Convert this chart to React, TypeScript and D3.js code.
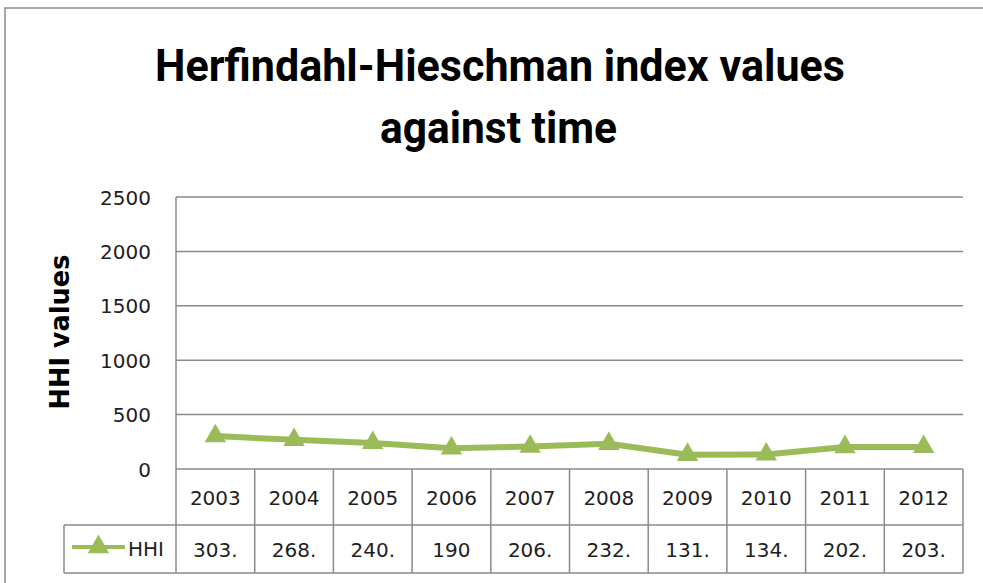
import React from "react";
import * as d3 from "d3";

const years = ["2003", "2004", "2005", "2006", "2007", "2008", "2009", "2010", "2011", "2012"];
const hhiValues = [303, 268, 240, 190, 206, 232, 131, 134, 202, 203];
const hhiLabels = ["303.", "268.", "240.", "190", "206.", "232.", "131.", "134.", "202.", "203."];
const yTicks = [0, 500, 1000, 1500, 2000, 2500];
const seriesName = "HHI";
const titleLines = ["Herfindahl-Hieschman index values", "against time"];
const yAxisTitle = "HHI values";

const W = 983;
const H = 583;
const plotLeft = 176;
const plotRight = 963;
const plotTop = 197;
const plotBottom = 469;
const row1Bottom = 525;
const row2Bottom = 573;
const legendLeft = 64;

const GREEN = "#9bbb59";
const GRID = "#8a8a8a";
const TEXT = "#1e1e1e";

export default function App() {
  const x = d3.scaleBand<string>().domain(years).range([plotLeft, plotRight]).padding(0);
  const y = d3.scaleLinear().domain([0, 2500]).range([plotBottom, plotTop]);
  const cx = (yr: string) => (x(yr) as number) + x.bandwidth() / 2;

  const line = d3
    .line<number>()
    .x((_, i) => cx(years[i]))
    .y((v) => y(v));

  const tri = d3.symbol().type(d3.symbolTriangle).size(200)();

  const tickFont = "'DejaVu Sans', Verdana, sans-serif";
  const titleFont = "Roboto, 'Liberation Sans', sans-serif";

  return (
    <svg
      width={W}
      height={H}
      viewBox={`0 0 ${W} ${H}`}
      style={{ position: "absolute", left: 0, top: 0, background: "#fff" }}
    >
      <rect x={0} y={0} width={W} height={H} fill="#fff" />
      {/* outer chart border */}
      <rect x={5} y={8} width={W + 20} height={H + 20} fill="none" stroke="#8c8c8c" strokeWidth={1.5} />

      {/* title */}
      <text
        x={155}
        y={81}
        textLength={690}
        lengthAdjust="spacingAndGlyphs"
        fontFamily={titleFont}
        fontWeight={700}
        fontSize={45}
        fill="#000"
      >
        {titleLines[0]}
      </text>
      <text
        x={380}
        y={143}
        textLength={237}
        lengthAdjust="spacingAndGlyphs"
        fontFamily={titleFont}
        fontWeight={700}
        fontSize={45}
        fill="#000"
      >
        {titleLines[1]}
      </text>

      {/* y axis title */}
      <text
        transform={`translate(69, 332) rotate(-90)`}
        textAnchor="middle"
        textLength={155}
        lengthAdjust="spacingAndGlyphs"
        fontFamily="'DejaVu Sans', sans-serif"
        fontWeight="bold"
        fontSize={26}
        fill="#000"
      >
        {yAxisTitle}
      </text>

      {/* gridlines */}
      {yTicks.map((t) => (
        <line
          key={"g" + t}
          x1={plotLeft}
          x2={plotRight}
          y1={y(t)}
          y2={y(t)}
          stroke={GRID}
          strokeWidth={1.5}
        />
      ))}
      {/* y tick labels */}
      {yTicks.map((t) => (
        <text
          key={"t" + t}
          x={151}
          y={y(t) + 7.5}
          textAnchor="end"
          fontFamily={tickFont}
          fontSize={20}
          fill={TEXT}
        >
          {t}
        </text>
      ))}

      {/* left axis line */}
      <line x1={plotLeft} x2={plotLeft} y1={plotTop} y2={row2Bottom} stroke={GRID} strokeWidth={1.5} />

      {/* data table grid */}
      <line x1={legendLeft} x2={plotRight} y1={row1Bottom} y2={row1Bottom} stroke={GRID} strokeWidth={1.5} />
      <line x1={legendLeft} x2={plotRight} y1={row2Bottom} y2={row2Bottom} stroke={GRID} strokeWidth={1.5} />
      <line x1={legendLeft} x2={legendLeft} y1={row1Bottom} y2={row2Bottom} stroke={GRID} strokeWidth={1.5} />
      {years.map((yr) => (
        <line
          key={"v" + yr}
          x1={(x(yr) as number) + x.bandwidth()}
          x2={(x(yr) as number) + x.bandwidth()}
          y1={plotBottom}
          y2={row2Bottom}
          stroke={GRID}
          strokeWidth={1.5}
        />
      ))}
      {years.map((yr) => (
        <text
          key={"yr" + yr}
          x={cx(yr)}
          y={(plotBottom + row1Bottom) / 2 + 8}
          textAnchor="middle"
          fontFamily={tickFont}
          fontSize={20}
          fill={TEXT}
        >
          {yr}
        </text>
      ))}
      {years.map((yr, i) => (
        <text
          key={"val" + yr}
          x={cx(yr)}
          y={(row1Bottom + row2Bottom) / 2 + 7.5}
          textAnchor="middle"
          fontFamily={tickFont}
          fontSize={20}
          fill={TEXT}
        >
          {hhiLabels[i]}
        </text>
      ))}

      {/* legend key */}
      <line x1={72} x2={125} y1={547} y2={547} stroke={GREEN} strokeWidth={4} />
      <path d={tri || ""} transform="translate(98.5, 547)" fill={GREEN} />
      <text x={128} y={556} fontFamily={tickFont} fontSize={20} fill={TEXT}>
        {seriesName}
      </text>

      {/* series */}
      <path d={line(hhiValues) || ""} fill="none" stroke={GREEN} strokeWidth={6} strokeLinejoin="round" />
      {hhiValues.map((v, i) => (
        <path key={"m" + i} d={tri || ""} transform={`translate(${cx(years[i])}, ${y(v)})`} fill={GREEN} />
      ))}
    </svg>
  );
}
